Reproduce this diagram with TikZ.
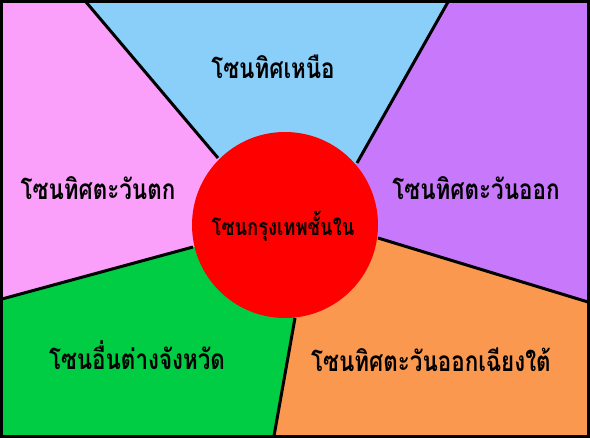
\documentclass[tikz,border=0pt]{standalone}
\usepackage{fontspec}
\newfontfamily\thaifont[Script=Thai,FakeStretch=0.8]{Loma}
\definecolor{zblue}{RGB}{137,207,250}
\definecolor{zpink}{RGB}{250,160,250}
\definecolor{zpurple}{RGB}{200,120,250}
\definecolor{zgreen}{RGB}{0,204,68}
\definecolor{zorange}{RGB}{250,152,80}
\definecolor{zred}{RGB}{255,0,0}
\begin{document}
\begin{tikzpicture}[x=1pt,y=-1pt,
  divider/.style={line width=3pt,black},
  zonelabel/.style={font=\thaifont\bfseries\fontsize{28}{32}\selectfont,text=black,inner sep=0pt},
  innerlabel/.style={zonelabel,font=\thaifont\bfseries\fontsize{23}{27}\selectfont}]
\useasboundingbox (0,0) rectangle (590,438);
% key points
\coordinate (C) at (285,225);
\coordinate (aT) at (86,2);   \coordinate (aC) at (218,158);
\coordinate (bT) at (448,2);  \coordinate (bC) at (357,163);
\coordinate (cL) at (2,299);  \coordinate (cC) at (193,247);
\coordinate (dB) at (274,436); \coordinate (dC) at (295,318);
\coordinate (eC) at (378,238); \coordinate (eR) at (588,302);
% regions
\fill[zpink] (0,0) -- (86,0) -- (aC) -- (C) -- (cC) -- (0,299.5) -- cycle;
\fill[zblue] (86,0) -- (448,0) -- (bC) -- (C) -- (aC) -- cycle;
\fill[zpurple] (448,0) -- (590,0) -- (590,302.6) -- (eC) -- (C) -- (bC) -- cycle;
\fill[zorange] (eC) -- (590,302.6) -- (590,438) -- (273.7,438) -- (dC) -- (C) -- cycle;
\fill[zgreen] (0,299.5) -- (cC) -- (C) -- (dC) -- (273.7,438) -- (0,438) -- cycle;
% dividers
\draw[divider] (aT) -- (aC);
\draw[divider] (bT) -- (bC);
\draw[divider] (cL) -- (cC);
\draw[divider] (dB) -- (dC);
\draw[divider] (eC) -- (eR);
% centre circle
\node[circle,fill=zred,minimum size=186pt,inner sep=0pt] (centre) at (C) {};
% frame
\draw[line width=3pt] (1.5,1.5) rectangle (588.5,436.5);
% labels
\node[zonelabel] (north) at (273,67) {โซนทิศเหนือ};
\node[zonelabel] (west) at (98,188) {โซนทิศตะวันตก};
\node[zonelabel] (east) at (476,188) {โซนทิศตะวันออก};
\node[innerlabel] (inner) at (283,226) {โซนกรุงเทพชั้นใน};
\node[zonelabel] (other) at (137,355) {โซนอื่นต่างจังหวัด};
\node[zonelabel] (southeast) at (431,360) {โซนทิศตะวันออกเฉียงใต้};
\end{tikzpicture}
\end{document}
